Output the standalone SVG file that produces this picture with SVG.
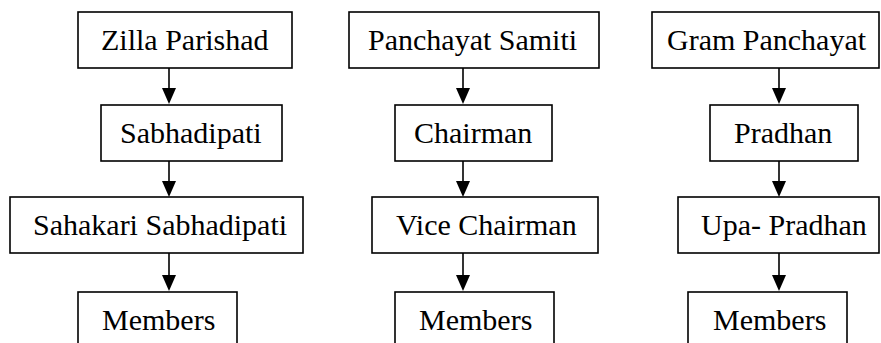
<svg xmlns="http://www.w3.org/2000/svg" width="881" height="343" viewBox="0 0 881 343">
<defs>
<style>
.box{fill:#fff;stroke:#000;stroke-width:1.6}
.lbl{font-family:"Liberation Serif","Times New Roman",Tinos,serif;font-size:30px;fill:#000}
.con{stroke:#000;stroke-width:1.6;fill:none}
.head{fill:#000}
</style>
</defs>
<rect width="881" height="343" fill="#fff"/>
<g id="connectors">
<line class="con" x1="169" y1="68" x2="169" y2="88"/><path class="head" d="M162,88 L176,88 L169,104 Z"/>
<line class="con" x1="169" y1="161" x2="169" y2="181"/><path class="head" d="M162,181 L176,181 L169,197 Z"/>
<line class="con" x1="169" y1="253" x2="169" y2="275"/><path class="head" d="M162,275 L176,275 L169,291 Z"/>
<line class="con" x1="463" y1="68" x2="463" y2="88"/><path class="head" d="M456,88 L470,88 L463,104 Z"/>
<line class="con" x1="463" y1="161" x2="463" y2="181"/><path class="head" d="M456,181 L470,181 L463,197 Z"/>
<line class="con" x1="463" y1="253" x2="463" y2="275"/><path class="head" d="M456,275 L470,275 L463,291 Z"/>
<line class="con" x1="779" y1="68" x2="779" y2="88"/><path class="head" d="M772,88 L786,88 L779,104 Z"/>
<line class="con" x1="779" y1="161" x2="779" y2="181"/><path class="head" d="M772,181 L786,181 L779,197 Z"/>
<line class="con" x1="779" y1="253" x2="779" y2="275"/><path class="head" d="M772,275 L786,275 L779,291 Z"/>
</g>
<g id="zilla"><rect class="box" x="78" y="12" width="214" height="56"/><text class="lbl" x="101" y="50">Zilla Parishad</text></g>
<g id="sabhadipati"><rect class="box" x="101" y="105" width="181" height="56"/><text class="lbl" x="120" y="143">Sabhadipati</text></g>
<g id="sahakari"><rect class="box" x="10" y="197" width="293" height="56"/><text class="lbl" x="33" y="235">Sahakari Sabhadipati</text></g>
<g id="members1"><rect class="box" x="78" y="292" width="159" height="60"/><text class="lbl" x="102" y="330">Members</text></g>
<g id="samiti"><rect class="box" x="349" y="12" width="250" height="56"/><text class="lbl" x="368" y="50">Panchayat Samiti</text></g>
<g id="chairman"><rect class="box" x="395" y="105" width="157" height="56"/><text class="lbl" x="414" y="143">Chairman</text></g>
<g id="vicechairman"><rect class="box" x="372" y="197" width="226" height="56"/><text class="lbl" x="396" y="235">Vice Chairman</text></g>
<g id="members2"><rect class="box" x="395" y="292" width="159" height="60"/><text class="lbl" x="419" y="330">Members</text></g>
<g id="gram"><rect class="box" x="652" y="12" width="227" height="56"/><text class="lbl" x="667" y="50">Gram Panchayat</text></g>
<g id="pradhan"><rect class="box" x="710" y="105" width="148" height="56"/><text class="lbl" x="734" y="143">Pradhan</text></g>
<g id="upapradhan"><rect class="box" x="678" y="197" width="201" height="56"/><text class="lbl" x="701" y="235">Upa- Pradhan</text></g>
<g id="members3"><rect class="box" x="688" y="292" width="159" height="60"/><text class="lbl" x="713" y="330">Members</text></g>
</svg>
